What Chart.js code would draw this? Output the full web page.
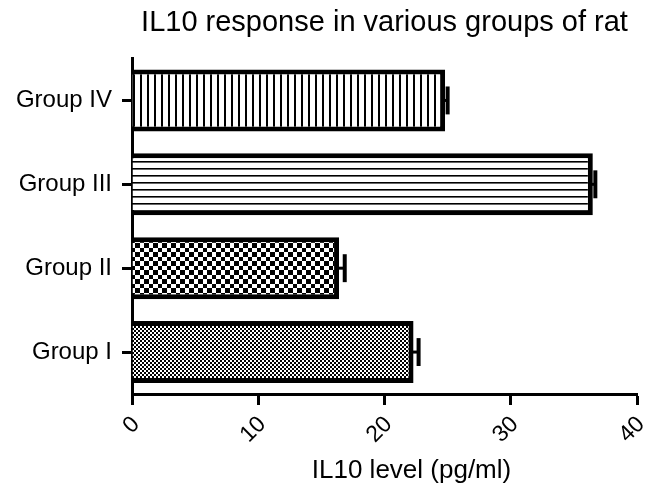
<!DOCTYPE html>
<html><head><meta charset="utf-8">
<script src="https://cdn.jsdelivr.net/npm/chart.js@4/dist/chart.umd.min.js"></script>
<style>html,body{margin:0;padding:0;background:#fff}#wrap{width:660px;height:484px}canvas{display:block}</style>
</head><body><div id="wrap"><canvas id="c" width="660" height="484" style="width:660px;height:484px"></canvas></div>
<script>
// ---- data ----
const categories = ['Group I', 'Group II', 'Group III', 'Group IV'];
const il10Mean   = [22.3, 16.4, 36.5, 24.8];
const il10Err    = [0.4, 0.45, 0.2, 0.2];
const xTickValues = [0, 10, 20, 30, 40];
const chartTitle = 'IL10 response in various groups of rat';
const xTitle = 'IL10 level (pg/ml)';
const FONT = '"Liberation Sans", Arial, sans-serif';

// ---- patterns ----
function makePattern(kind) {
  const c = document.createElement('canvas');
  const g = c.getContext('2d');
  if (kind === 'vstripe') {
    c.width = 7; c.height = 7;
    g.fillStyle = '#fff'; g.fillRect(0, 0, 7, 7);
    g.fillStyle = '#000'; g.fillRect(0, 0, 2, 7);
  } else if (kind === 'hline') {
    c.width = 7; c.height = 7;
    g.fillStyle = '#fff'; g.fillRect(0, 0, 7, 7);
    g.fillStyle = '#000'; g.fillRect(0, 0, 7, 1);
    g.fillStyle = '#666'; g.fillRect(0, 1, 7, 1);
  } else if (kind === 'checker') {
    c.width = 18; c.height = 18;
    g.fillStyle = '#fff'; g.fillRect(0, 0, 18, 18);
    const edges = [0, 5, 9, 14, 18];
    g.fillStyle = '#000';
    for (let i = 0; i < 4; i++) for (let j = 0; j < 4; j++) {
      if ((i + j) % 2 === 0) g.fillRect(edges[i], edges[j], edges[i + 1] - edges[i], edges[j + 1] - edges[j]);
    }
  } else {
    c.width = 4; c.height = 4;
    g.fillStyle = '#fff'; g.fillRect(0, 0, 4, 4);
    g.fillStyle = '#000'; g.fillRect(0, 0, 2, 2); g.fillRect(2, 2, 2, 2);
  }
  return g.createPattern(c, 'repeat');
}
const fills = [makePattern('fine'), makePattern('checker'), makePattern('hline'), makePattern('vstripe')];

// ---- plugins ----
const errorBars = {
  id: 'errorBars',
  afterDatasetsDraw(chart) {
    const { ctx, scales: { x, y } } = chart;
    const meta = chart.getDatasetMeta(0);
    ctx.save();
    ctx.strokeStyle = '#000';
    il10Mean.forEach((v, i) => {
      const bar = meta.data[i];
      const yc = y.getPixelForValue(i);
      const x1 = x.getPixelForValue(v);
      const x2 = x.getPixelForValue(v + il10Err[i]);
      const half = bar.height * 0.225;
      ctx.lineWidth = 3;
      ctx.beginPath(); ctx.moveTo(x1 - 2, yc); ctx.lineTo(x2, yc); ctx.stroke();
      ctx.lineWidth = 4;
      ctx.beginPath(); ctx.moveTo(x2, yc - half); ctx.lineTo(x2, yc + half); ctx.stroke();
    });
    ctx.restore();
  }
};
const xAxisTitle = {
  id: 'xAxisTitle',
  afterDraw(chart) {
    const { ctx, chartArea } = chart;
    ctx.save();
    ctx.fillStyle = '#000';
    ctx.font = '26px ' + FONT;
    ctx.textAlign = 'center';
    ctx.textBaseline = 'alphabetic';
    ctx.fillText(xTitle, (chartArea.left + chartArea.right) / 2 + 27, chartArea.bottom + 84);
    ctx.restore();
  }
};

new Chart(document.getElementById('c'), {
  type: 'bar',
  data: {
    labels: categories,
    datasets: [{
      data: il10Mean,
      backgroundColor: fills,
      borderColor: '#000',
      borderWidth: 5,
      borderSkipped: 'start',
      barPercentage: 0.74,
      categoryPercentage: 1
    }]
  },
  options: {
    indexAxis: 'y',
    responsive: false,
    animation: false,
    events: [],
    layout: { padding: { left: 0, right: 23, top: 0, bottom: 0 } },
    plugins: {
      legend: { display: false },
      tooltip: { enabled: false },
      title: {
        display: true,
        text: chartTitle,
        fullSize: false,
        color: '#000',
        font: { family: FONT, size: 29, weight: 'normal' },
        padding: { top: 6, bottom: 17.7 }
      }
    },
    scales: {
      x: {
        type: 'linear',
        min: xTickValues[0],
        max: xTickValues[xTickValues.length - 1],
        afterBuildTicks: s => { s.ticks = xTickValues.map(v => ({ value: v })); },
        ticks: {
          color: '#000',
          font: { family: FONT, size: 23 },
          minRotation: 45, maxRotation: 45,
          padding: 6,
          labelOffset: 4
        },
        grid: { drawOnChartArea: false, drawTicks: true, tickLength: 11, tickWidth: 3, tickColor: '#000' },
        border: { color: '#000', width: 3 },
        afterFit: s => { s.height = 90; s.paddingLeft = 0; s.paddingRight = 0; }
      },
      y: {
        type: 'category',
        reverse: true,
        offset: true,
        ticks: { color: '#000', font: { family: FONT, size: 24 }, padding: 10 },
        grid: { offset: false, drawOnChartArea: false, drawTicks: true, tickLength: 10, tickWidth: 3, tickColor: '#000' },
        border: { color: '#000', width: 3 },
        afterFit: s => { s.width = 132; }
      }
    }
  },
  plugins: [errorBars, xAxisTitle]
});
</script>
</body></html>
